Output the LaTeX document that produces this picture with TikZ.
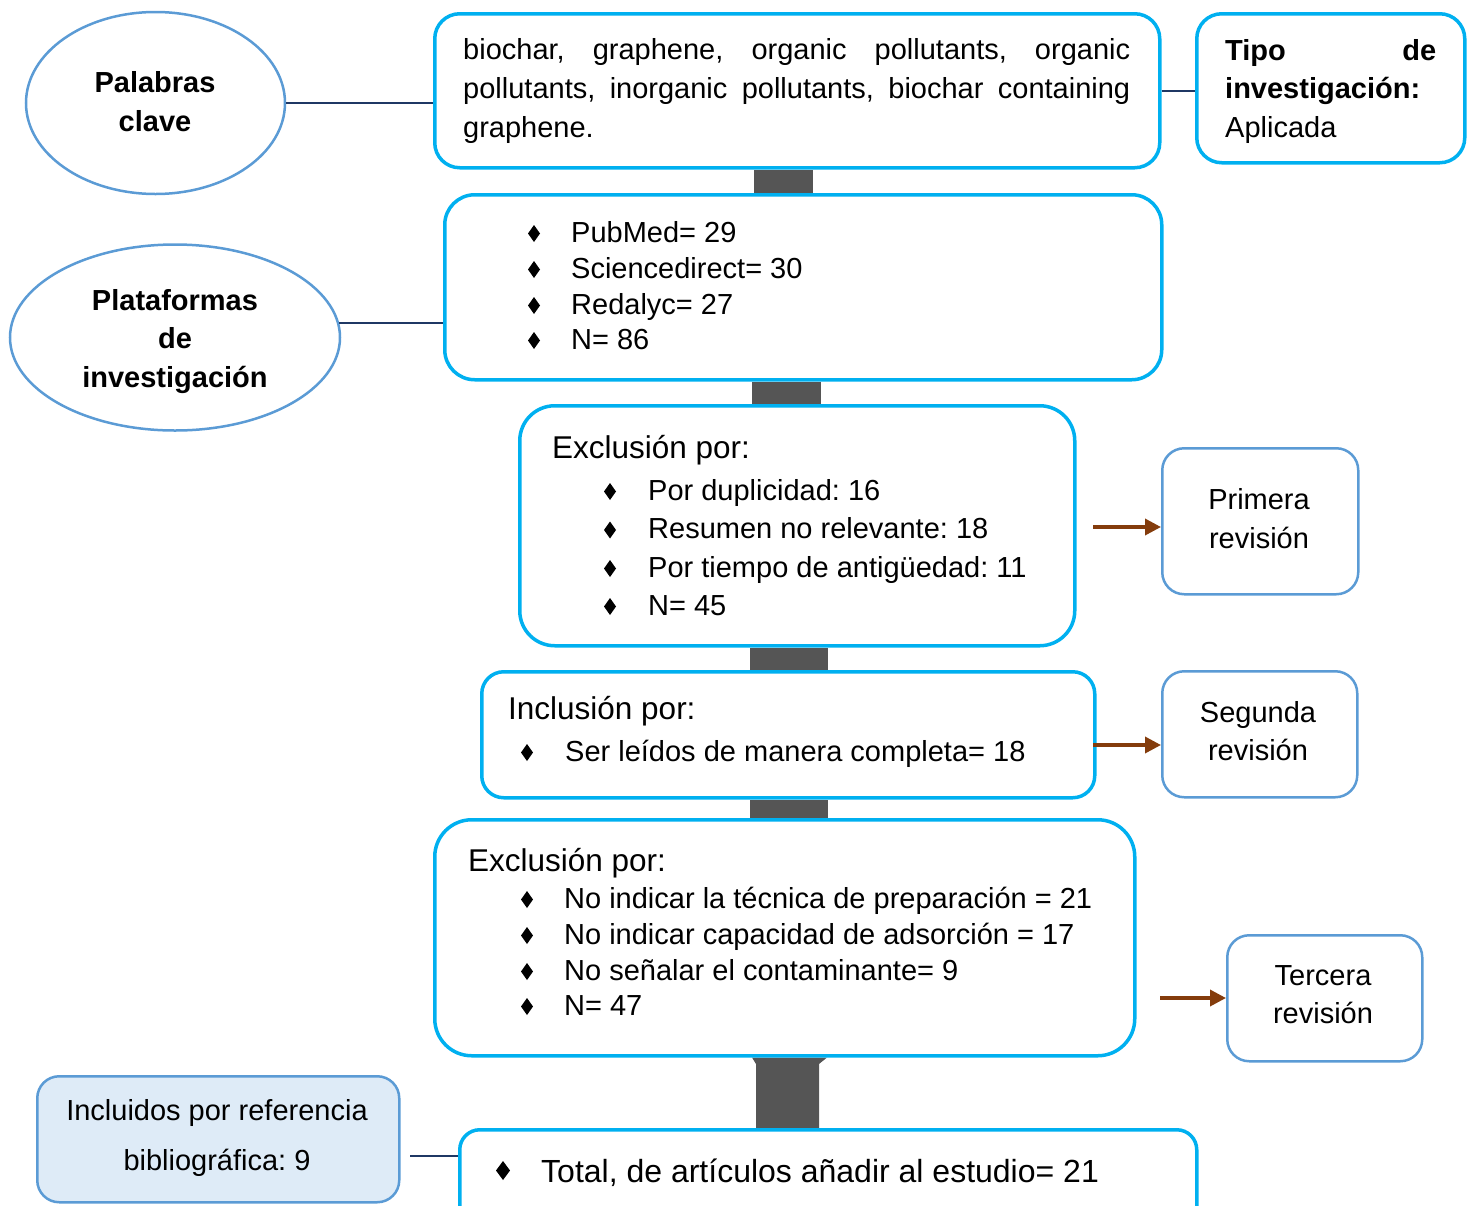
\documentclass[tikz,border=0pt]{standalone}
\usepackage{fontspec}
\setmainfont{Liberation Sans}
\frenchspacing
\usetikzlibrary{shapes.geometric,arrows.meta,backgrounds}
\definecolor{cyanb}{HTML}{00B0F0}
\definecolor{steel}{HTML}{5B9BD5}
\definecolor{navy}{HTML}{1F3864}
\definecolor{brownA}{HTML}{843C0C}
\definecolor{darkc}{HTML}{555555}
\definecolor{lblue}{HTML}{DEEBF7}
\newcommand\bul[2]{\fill (#1,#2) -- ++(6,-8.5) -- ++(-6,-8.5) -- ++(-6,8.5) -- cycle;}
\newcommand\bigbul[2]{\fill (#1,#2) -- ++(7,-9.5) -- ++(-7,-9.5) -- ++(-7,9.5) -- cycle;}
\begin{document}
\begin{tikzpicture}[x=1pt,y=-1pt,
  cbox/.style={draw=cyanb, line width=3.5pt, fill=white, rounded corners=#1, inner sep=0pt, anchor=north west},
  cbox/.default=25pt,
  sbox/.style={draw=steel, line width=2.5pt, fill=white, rounded corners=22pt, inner sep=0pt, anchor=north west},
  ell/.style={ellipse, draw=steel, line width=2.5pt, fill=white, inner sep=0pt},
  txt/.style={inner sep=0pt, font=\fontsize{29}{35}\selectfont},
  hd/.style={inner sep=0pt, font=\fontsize{31.5}{38}\selectfont},
  bigt/.style={inner sep=0pt, font=\fontsize{32}{38}\selectfont},
  tb/.style={inner sep=0pt, font=\fontsize{29}{35}\selectfont\bfseries},
  lnk/.style={draw=navy, line width=1.5pt},
  arr/.style={draw=brownA, line width=3.5pt, -{Triangle[length=16pt,width=16pt]}}
]
\useasboundingbox (0,0) rectangle (1472,1205);
\clip (0,0) rectangle (1472,1205);

% ---------- boxes ----------
\node[ell, minimum width=259pt, minimum height=182pt] (pal) at (155.5,103) {};
\node[ell, minimum width=330pt, minimum height=186pt] (plat) at (175,337.5) {};

\node[cbox=25pt, minimum width=725pt, minimum height=154pt] (b1) at (433,12) {};
\node[cbox=25pt, minimum width=268pt, minimum height=149pt] (tipo) at (1195,12) {};
\node[cbox=30pt, minimum width=717pt, minimum height=185pt] (b2) at (443,193) {};
\node[cbox=35pt, minimum width=555pt, minimum height=240pt] (b3) at (518,404) {};
\node[cbox=22pt, minimum width=613pt, minimum height=126pt] (b4) at (480,670) {};
\node[cbox=37pt, minimum width=700pt, minimum height=236pt] (b5) at (433,818) {};
\node[cbox=20pt, minimum width=737pt, minimum height=140pt] (b6) at (458,1128) {};

\node[sbox, minimum width=196pt, minimum height=146pt] (rev1) at (1161,447) {};
\node[sbox, minimum width=195pt, minimum height=126pt] (rev2) at (1161,670) {};
\node[sbox, minimum width=195pt, minimum height=126pt] (rev3) at (1226,934) {};
\node[sbox, fill=lblue, minimum width=362pt, minimum height=126pt] (incl) at (36,1075) {};

% ---------- dark connectors ----------
\begin{pgfonlayer}{background}
\fill[darkc] (754,0 |- b1.south) rectangle (813,0 |- b2.north);
\fill[darkc] (752,0 |- b2.south) rectangle (821,0 |- b3.north);
\fill[darkc] (750,0 |- b3.south) rectangle (828,0 |- b4.north);
\fill[darkc] (750,0 |- b4.south) rectangle (828,0 |- b5.north);
\fill[darkc] (752,0 |- b5.south) -- (827,0 |- b5.south) -- (819,1064) -- (819,0 |- b6.north)
  -- (756,0 |- b6.north) -- (756,1064) -- cycle;
\end{pgfonlayer}

% ---------- thin links ----------
\draw[lnk] (pal.east) -- (pal.east -| b1.west);
\draw[lnk] (plat.5.6) -- (plat.5.6 -| b2.west);
\draw[lnk] (b1.east) -- (b1.east -| tipo.west);
\coordinate (inclEnd) at (410,1156);
\draw[lnk] (inclEnd) -- (inclEnd -| b6.west);

% ---------- brown arrows ----------
\coordinate (a1) at (1093,527);
\coordinate (a2) at (1093,745);
\coordinate (a3) at (1160,998);
\draw[arr] (a1) -- (a1 -| rev1.west);
\draw[arr] (a2) -- (a2 -| rev2.west);
\draw[arr] (a3) -- (a3 -| rev3.west);

% ---------- ellipse texts ----------
\node[tb, anchor=base] (pal1) at (155,92) {Palabras};
\node[tb, anchor=base] (pal2) at (155,131) {clave};
\node[tb, anchor=base] (pl1) at (175,310) {Plataformas};
\node[tb, anchor=base] (pl2) at (175,348) {de};
\node[tb, anchor=base] (pl3) at (175,387) {investigación};

% ---------- box 1 ----------
\node[txt, anchor=base west] (k1) at (463,59) {\makebox[667pt][s]{biochar, graphene, organic pollutants, organic}};
\node[txt, anchor=base west] (k2) at (463,98) {\makebox[667pt][s]{pollutants, inorganic pollutants, biochar containing}};
\node[txt, anchor=base west] (k3) at (463,137) {graphene.};

% ---------- tipo ----------
\node[tb, anchor=base west] (t1) at (1225,60) {\makebox[211pt][s]{Tipo de}};
\node[tb, anchor=base west] (t2) at (1225,98) {investigación:};
\node[txt, anchor=base west] (t3) at (1225,137) {Aplicada};

% ---------- box 2 ----------
\bul{534}{242}\bul{534}{278}\bul{534}{314}\bul{534}{349}
\node[txt, anchor=base west] (p1) at (571,242) {PubMed= 29};
\node[txt, anchor=base west] (p2) at (571,278) {Sciencedirect= 30};
\node[txt, anchor=base west] (p3) at (571,314) {Redalyc= 27};
\node[txt, anchor=base west] (p4) at (571,349) {N= 86};

% ---------- box 3 ----------
\node[hd, anchor=base west] (e0) at (552,458) {Exclusión por:};
\bul{610}{500}\bul{610}{538.5}\bul{610}{577}\bul{610}{615}
\node[txt, anchor=base west] (e1) at (648,500) {Por duplicidad: 16};
\node[txt, anchor=base west] (e2) at (648,538.5) {Resumen no relevante: 18};
\node[txt, anchor=base west] (e3) at (648,577) {Por tiempo de antigüedad: 11};
\node[txt, anchor=base west] (e4) at (648,615) {N= 45};

% ---------- box 4 ----------
\node[hd, anchor=base west] (i0) at (508,719) {Inclusión por:};
\bul{527}{761}
\node[txt, anchor=base west] (i1) at (565,761) {Ser leídos de manera completa= 18};

% ---------- box 5 ----------
\node[hd, anchor=base west] (x0) at (468,871) {Exclusión por:};
\bul{527}{908}\bul{527}{944}\bul{527}{980}\bul{527}{1015}
\node[txt, anchor=base west] (x1) at (564,908) {No indicar la técnica de preparación = 21};
\node[txt, anchor=base west] (x2) at (564,944) {No indicar capacidad de adsorción = 17};
\node[txt, anchor=base west] (x3) at (564,980) {No señalar el contaminante= 9};
\node[txt, anchor=base west] (x4) at (564,1015) {N= 47};

% ---------- box 6 ----------
\bigbul{503}{1180}
\node[bigt, anchor=base west] (tot) at (541,1182) {Total, de artículos añadir al estudio= 21};

% ---------- revision boxes ----------
\node[txt, anchor=base] (r11) at (1259,509.5) {Primera};
\node[txt, anchor=base] (r12) at (1259,548.5) {revisión};
\node[txt, anchor=base] (r21) at (1258,722) {Segunda};
\node[txt, anchor=base] (r22) at (1258,760) {revisión};
\node[txt, anchor=base] (r31) at (1323,985) {Tercera};
\node[txt, anchor=base] (r32) at (1323,1023) {revisión};

% ---------- incluidos ----------
\node[txt, anchor=base] (n1) at (217,1120) {Incluidos por referencia};
\node[txt, anchor=base] (n2) at (217,1170) {bibliográfica: 9};
\end{tikzpicture}
\end{document}
